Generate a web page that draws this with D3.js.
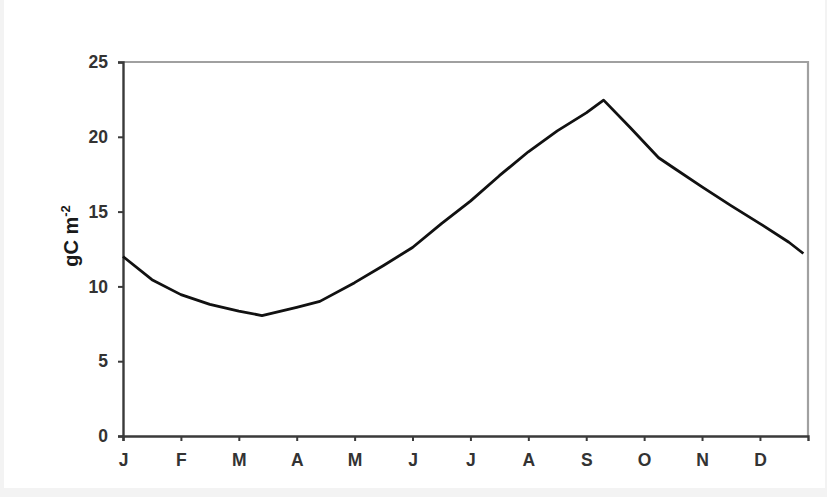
<!DOCTYPE html>
<html>
<head>
<meta charset="utf-8">
<script src="https://cdn.jsdelivr.net/npm/d3@7"></script>
<style>
  html, body { margin: 0; padding: 0; background: #fff; }
  svg { display: block; }
  text { font-family: "Liberation Sans", Arial, sans-serif; }
</style>
</head>
<body>
<svg id="chart" width="827" height="497"></svg>
<script>
// Month tick labels (one per month, starting January)
const monthLabels = ["J", "F", "M", "A", "M", "J", "J", "A", "S", "O", "N", "D"];
// Position along the year, in months since 1 January
const monthPos = [0, 0.5, 1, 1.5, 2, 2.4, 3, 3.4, 4, 4.5, 5, 5.5, 6, 6.5, 7, 7.5, 8, 8.3,
                  8.75, 9.25, 9.5, 10, 10.5, 11, 11.5, 11.75];
// Carbon stock, gC m-2
const gc = [12.0, 10.45, 9.45, 8.8, 8.35, 8.05, 8.6, 9.0, 10.25, 11.4, 12.6, 14.2, 15.7, 17.4,
            19.0, 20.4, 21.6, 22.45, 20.65, 18.6, 17.95, 16.65, 15.4, 14.2, 12.95, 12.2];
const yTicks = [0, 5, 10, 15, 20, 25];

const svg = d3.select("#chart");
const W = 827, H = 497;
const m = { left: 123, top: 62, right: 808, bottom: 436 };

// faint frame around the figure
svg.append("rect").attr("x", 0).attr("y", 0).attr("width", W).attr("height", H).attr("fill", "#f3f3f3");
svg.append("rect").attr("x", 4).attr("y", 0).attr("width", 821).attr("height", 488).attr("fill", "#fff");

const x = d3.scaleLinear().domain([0, 11.83]).range([m.left, m.right]);
const y = d3.scaleLinear().domain([0, 25]).range([m.bottom, m.top]);

// top and right frame of plot area
svg.append("path")
  .attr("d", `M${m.left},${m.top}H${m.right}V${m.bottom}`)
  .attr("fill", "none").attr("stroke", "#a0a0a0").attr("stroke-width", 2.2);

// y axis
const yAxis = svg.append("g")
  .attr("transform", `translate(${m.left},0)`)
  .call(d3.axisLeft(y).tickValues(yTicks).tickSize(5).tickPadding(10));
// x axis
const xAxis = svg.append("g")
  .attr("transform", `translate(0,${m.bottom})`)
  .call(d3.axisBottom(x).tickValues(d3.range(monthLabels.length))
        .tickFormat(i => monthLabels[i]).tickSize(5).tickPadding(13));

[yAxis, xAxis].forEach(g => {
  g.select(".domain").attr("stroke", "#3a3a3a").attr("stroke-width", 2.4);
  g.selectAll(".tick line").attr("stroke", "#3a3a3a").attr("stroke-width", 2);
  g.selectAll(".tick text").attr("fill", "#333").style("font-size", "17.5px")
    .style("font-weight", "bold")
    .style("font-family", "'Liberation Sans', Arial, sans-serif");
});

// y axis title: gC m-2
const yt = svg.append("text")
  .attr("transform", "translate(78,236) rotate(-90)")
  .attr("text-anchor", "middle")
  .style("font-size", "20px").style("font-weight", "bold").attr("fill", "#1a1a1a");
yt.append("tspan").text("gC m");
yt.append("tspan").attr("dy", -8).style("font-size", "13px").text("-2");

// data line
const line = d3.line().x((d, i) => x(monthPos[i])).y(d => y(d));
svg.append("path")
  .datum(gc)
  .attr("d", line)
  .attr("fill", "none")
  .attr("stroke", "#111")
  .attr("stroke-width", 2.8)
  .attr("stroke-linejoin", "round");
</script>
</body>
</html>
